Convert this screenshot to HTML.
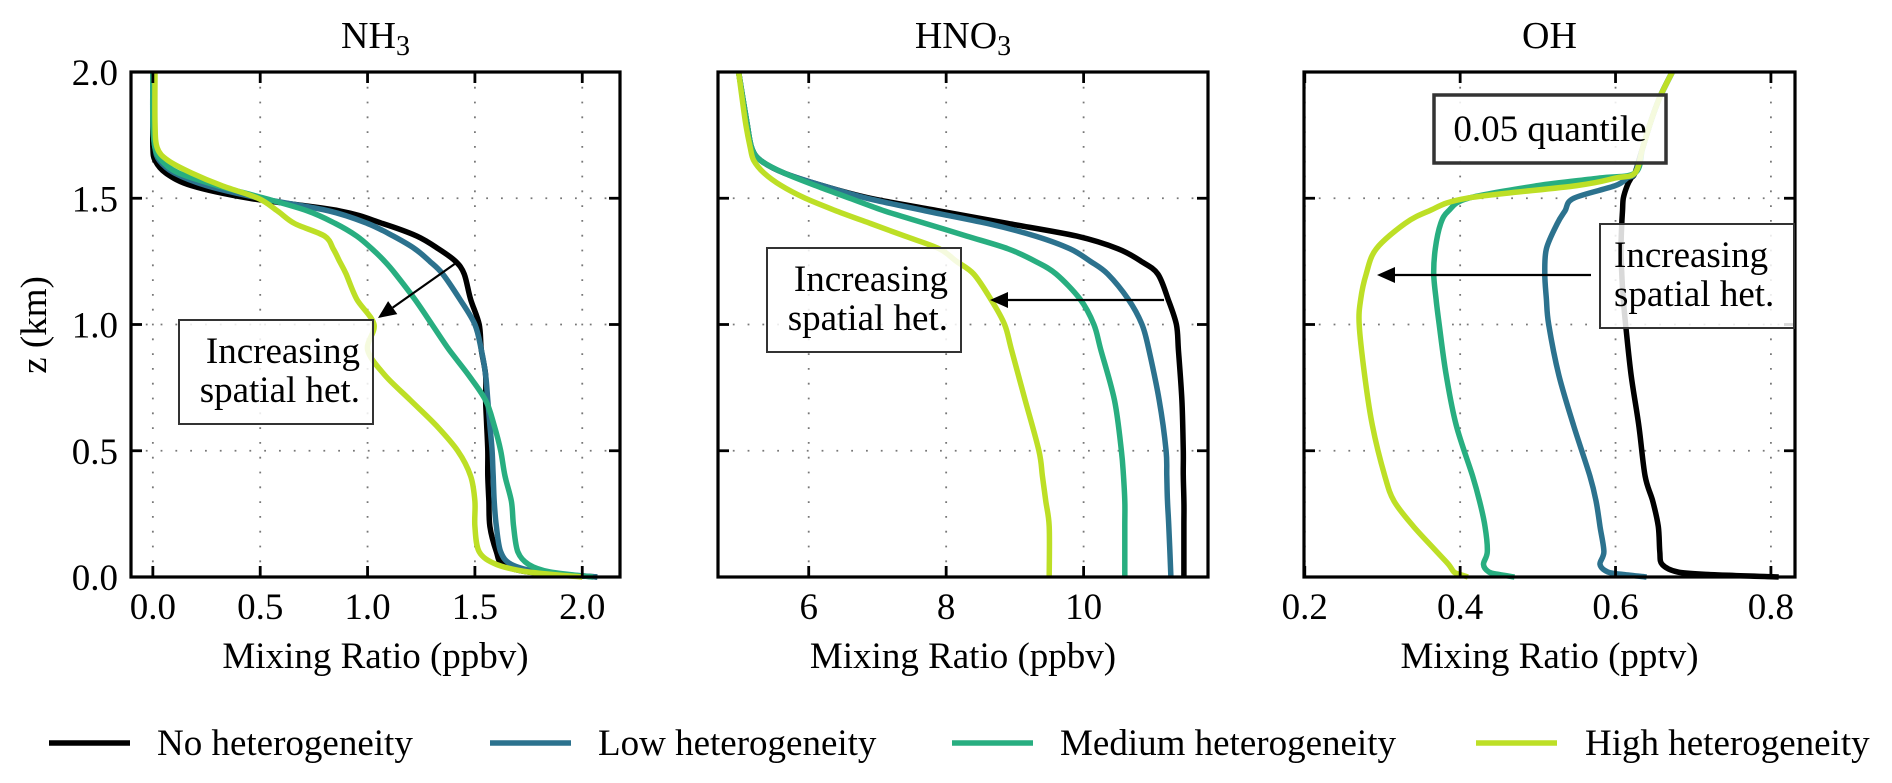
<!DOCTYPE html>
<html><head><meta charset="utf-8">
<style>
html,body{margin:0;padding:0;background:#fff;}
svg{display:block;font-family:"Liberation Serif",serif;}
</style></head>
<body>
<svg id="chart" width="1892" height="783" viewBox="0 0 1892 783" xmlns="http://www.w3.org/2000/svg"></svg>
<script>
// ---- data ----
const seriesNames = ["No heterogeneity","Low heterogeneity","Medium heterogeneity","High heterogeneity"];
const seriesColors = ["#000000","#2c728e","#28ae80","#bddf26"];
const yTicks = [0.0,0.5,1.0,1.5,2.0];
const yTickLabels = ["0.0","0.5","1.0","1.5","2.0"];

// NH3
const nh3Z = [0,0.02,0.05,0.1,0.2,0.3,0.4,0.5,0.6,0.7,0.8,0.9,1.0,1.1,1.2,1.25,1.3,1.35,1.4,1.45,1.5,1.55,1.6,1.65,1.7,1.8,2.0];
const nh3No  = [2.07,1.75,1.63,1.6,1.57,1.565,1.56,1.56,1.555,1.55,1.55,1.53,1.52,1.48,1.45,1.41,1.33,1.23,1.07,0.87,0.45,0.18,0.06,0.01,0.0,0.0,0.0];
const nh3Low = [2.07,1.8,1.67,1.62,1.6,1.59,1.585,1.58,1.57,1.56,1.55,1.53,1.5,1.43,1.35,1.29,1.22,1.12,1.0,0.82,0.5,0.25,0.1,0.03,0.01,0.0,0.0];
const nh3Med = [2.05,1.85,1.75,1.7,1.68,1.67,1.64,1.62,1.59,1.55,1.47,1.38,1.3,1.22,1.13,1.08,1.02,0.95,0.85,0.72,0.52,0.3,0.12,0.04,0.01,0.0,0.0];
const nh3High= [2.0,1.75,1.6,1.52,1.5,1.5,1.48,1.42,1.32,1.2,1.08,1.0,1.03,0.95,0.9,0.87,0.84,0.8,0.66,0.58,0.49,0.32,0.18,0.07,0.02,0.01,0.01];
const nh3XTicks = [0.0,0.5,1.0,1.5,2.0];
const nh3XTickLabels = ["0.0","0.5","1.0","1.5","2.0"];

// HNO3
const hnoZ = [0,0.2,0.3,0.4,0.5,0.7,0.9,1.0,1.1,1.2,1.25,1.3,1.35,1.4,1.45,1.5,1.55,1.6,1.65,1.7,1.8,2.0];
const hnoNo  = [11.46,11.46,11.46,11.45,11.45,11.43,11.38,11.35,11.23,11.08,10.84,10.5,9.9,8.9,7.9,6.9,6.2,5.64,5.3,5.17,5.1,4.98];
const hnoLow = [11.27,11.24,11.22,11.21,11.2,11.1,10.95,10.85,10.65,10.35,10.1,9.8,9.3,8.6,7.7,6.85,6.2,5.64,5.3,5.17,5.1,4.98];
const hnoMed = [10.6,10.6,10.6,10.58,10.55,10.45,10.25,10.15,9.95,9.6,9.3,8.9,8.3,7.7,7.1,6.6,6.1,5.64,5.3,5.17,5.1,4.98];
const hnoHigh= [9.5,9.5,9.45,9.4,9.35,9.15,8.95,8.85,8.65,8.4,8.15,7.9,7.4,6.9,6.4,5.95,5.6,5.35,5.2,5.15,5.08,4.98];
const hnoXTicks = [6,8,10];
const hnoXTickLabels = ["6","8","10"];

// OH
const ohZ = [0,0.01,0.02,0.05,0.1,0.2,0.3,0.4,0.6,0.8,1.0,1.1,1.2,1.3,1.4,1.45,1.5,1.55,1.58,1.6,1.7,1.8,1.9,2.0];
const ohNo  = [0.81,0.72,0.68,0.66,0.657,0.655,0.648,0.638,0.63,0.62,0.613,0.61,0.608,0.607,0.608,0.609,0.61,0.615,0.62,0.625,0.635,0.645,0.657,0.673];
const ohLow = [0.64,0.61,0.59,0.58,0.585,0.58,0.575,0.567,0.546,0.527,0.514,0.511,0.509,0.511,0.525,0.535,0.546,0.6,0.615,0.625,0.635,0.645,0.657,0.673];
const ohMed = [0.47,0.45,0.437,0.43,0.435,0.432,0.425,0.416,0.395,0.382,0.373,0.369,0.366,0.368,0.375,0.385,0.41,0.5,0.58,0.625,0.635,0.645,0.657,0.673];
const ohHigh= [0.41,0.4,0.392,0.385,0.37,0.34,0.315,0.303,0.287,0.277,0.27,0.272,0.279,0.292,0.329,0.36,0.408,0.55,0.6,0.625,0.635,0.645,0.657,0.673];
const ohXTicks = [0.2,0.4,0.6,0.8];
const ohXTickLabels = ["0.2","0.4","0.6","0.8"];

// ---- layout ----
const NS = "http://www.w3.org/2000/svg";
const svg = document.getElementById('chart');
const TOP = 72, BOT = 577;
const FS = 37;
function yScale(z){ return BOT - (z/2.0)*(BOT-TOP); }
function mk(tag, attrs, parent){
  const e = document.createElementNS(NS, tag);
  for (const k in attrs) e.setAttribute(k, attrs[k]);
  (parent||svg).appendChild(e);
  return e;
}
function smoothPath(pts){
  let d = 'M' + pts[0][0].toFixed(1) + ',' + pts[0][1].toFixed(1);
  for (let i=0;i<pts.length-1;i++){
    const p0 = pts[Math.max(0,i-1)], p1 = pts[i], p2 = pts[i+1], p3 = pts[Math.min(pts.length-1,i+2)];
    const t = 0.16;
    const c1x = p1[0] + (p2[0]-p0[0])*t, c1y = p1[1] + (p2[1]-p0[1])*t;
    const c2x = p2[0] - (p3[0]-p1[0])*t, c2y = p2[1] - (p3[1]-p1[1])*t;
    d += 'C' + c1x.toFixed(1)+','+c1y.toFixed(1)+' '+c2x.toFixed(1)+','+c2y.toFixed(1)+' '+p2[0].toFixed(1)+','+p2[1].toFixed(1);
  }
  return d;
}

const panels = [
  {key:"nh3", title:"NH", sub:"3", left:131, right:620, xmin:-0.1018, xmax:2.1758, z:nh3Z, s:[nh3No,nh3Low,nh3Med,nh3High], ticks:nh3XTicks, labels:nh3XTickLabels, xlabel:"Mixing Ratio (ppbv)", ylab:true},
  {key:"hno3", title:"HNO", sub:"3", left:718, right:1208, xmin:4.68, xmax:11.81, z:hnoZ, s:[hnoNo,hnoLow,hnoMed,hnoHigh], ticks:hnoXTicks, labels:hnoXTickLabels, xlabel:"Mixing Ratio (ppbv)", ylab:false},
  {key:"oh", title:"OH", sub:"", left:1304, right:1795, xmin:0.199, xmax:0.831, z:ohZ, s:[ohNo,ohLow,ohMed,ohHigh], ticks:ohXTicks, labels:ohXTickLabels, xlabel:"Mixing Ratio (pptv)", ylab:false}
];

panels.forEach(p=>{
  const g = mk('g',{});
  
  
  const xs = v => p.left + (v-p.xmin)/(p.xmax-p.xmin)*(p.right-p.left);
  p.ticks.forEach(t=>{
    const gl = mk('line',{x1:xs(t),x2:xs(t),y1:TOP,y2:BOT,stroke:'#777','stroke-width':1.8,'stroke-dasharray':'1.8 13'},g);
    
    
  });
  yTicks.forEach(t=>{
    if(t===0||t===2) return;
    const gl = mk('line',{x1:p.left,x2:p.right,y1:yScale(t),y2:yScale(t),stroke:'#777','stroke-width':1.8,'stroke-dasharray':'1.8 13'},g);
    
    
  });
  p.s.forEach((vals,i)=>{
    const pts = vals.map((v,j)=>[xs(v), yScale(p.z[j])]);
    const path = mk('path',{d:smoothPath(pts),fill:'none',stroke:seriesColors[i],'stroke-width':5.5,'stroke-linejoin':'round','stroke-linecap':'butt'},g);
    
    
  });
  p.ticks.forEach((t,i)=>{
    mk('line',{x1:xs(t),x2:xs(t),y1:BOT,y2:BOT-11,stroke:'#000','stroke-width':2.8},g);
    mk('line',{x1:xs(t),x2:xs(t),y1:TOP,y2:TOP+11,stroke:'#000','stroke-width':2.8},g);
    const tx = mk('text',{x:xs(t),y:619,'text-anchor':'middle','font-size':FS},g);
    tx.textContent = p.labels[i];
    
    
  });
  yTicks.forEach((t,i)=>{
    mk('line',{x1:p.left,x2:p.left+11,y1:yScale(t),y2:yScale(t),stroke:'#000','stroke-width':2.8},g);
    mk('line',{x1:p.right,x2:p.right-11,y1:yScale(t),y2:yScale(t),stroke:'#000','stroke-width':2.8},g);
    if(p.ylab){
      const ty = mk('text',{x:118,y:yScale(t)+13,'text-anchor':'end','font-size':FS},g);
      ty.textContent = yTickLabels[i];
      
      
    }
  });
  const fr = mk('rect',{x:p.left,y:TOP,width:p.right-p.left,height:BOT-TOP,fill:'none',stroke:'#000','stroke-width':3.2},g);
  
  
  const ti = mk('text',{x:(p.left+p.right)/2,y:48,'text-anchor':'middle','font-size':38},g);
  
  
  ti.textContent = p.title;
  if(p.sub){ const ts = mk('tspan',{dy:7,'font-size':28},ti); ts.textContent = p.sub; }
  const xl = mk('text',{x:(p.left+p.right)/2,y:668,'text-anchor':'middle','font-size':FS},g);
  xl.textContent = p.xlabel;
  
  
});

const yt = mk('text',{x:0,y:0,'text-anchor':'middle','font-size':FS,transform:'translate(46,325) rotate(-90)'});
yt.textContent = 'z (km)';



function annot(name, x, y, w, h, lines, tx, anchor, sw){
  const g = mk('g',{});
  
  
  mk('rect',{x:x,y:y,width:w,height:h,fill:'#fff','fill-opacity':0.85,stroke:'#333','stroke-width':sw},g);
  lines.forEach((l,i)=>{
    const t = mk('text',{x:tx,y:y+ (lines.length===1? h/2+12 : 43 + i*39),'text-anchor':anchor,'font-size':FS},g);
    t.textContent = l;
  });
}
function arrow(name, x1,y1,x2,y2){
  const g = mk('g',{});
  
  
  const ang = Math.atan2(y2-y1,x2-x1), L=18, W=8;
  const bx = x2 - L*Math.cos(ang), by = y2 - L*Math.sin(ang);
  mk('line',{x1:x1,y1:y1,x2:bx,y2:by,stroke:'#000','stroke-width':2.2},g);
  const px=-Math.sin(ang), py=Math.cos(ang);
  mk('polygon',{points:`${x2},${y2} ${bx+px*W},${by+py*W} ${bx-px*W},${by-py*W}`,fill:'#000'},g);
}
arrow('nh3-arrow',456,263,378,318);
annot('nh3-annotation',179,320,194,104,['Increasing','spatial het.'],360,'end',2);
arrow('hno3-arrow',1164,300,990,300);
annot('hno3-annotation',767,248,194,104,['Increasing','spatial het.'],948,'end',2);
arrow('oh-arrow',1591,275,1377,275);
annot('oh-annotation',1600,224,194,104,['Increasing','spatial het.'],1614,'start',2);
annot('oh-quantile-box',1434,95,232,68,['0.05 quantile'],1550,'middle',3.5);

const legX = [49,490,952,1476];
const legTX = [157,598,1060,1585];
const legend = mk('g',{});


seriesNames.forEach((n,i)=>{
  const e = mk('g',{},legend);
  
  
  mk('line',{x1:legX[i],x2:legX[i]+81,y1:743,y2:743,stroke:seriesColors[i],'stroke-width':5.5},e);
  const t = mk('text',{x:legTX[i],y:755,'font-size':FS},e);
  t.textContent = n;
});
</script>
</body></html>
